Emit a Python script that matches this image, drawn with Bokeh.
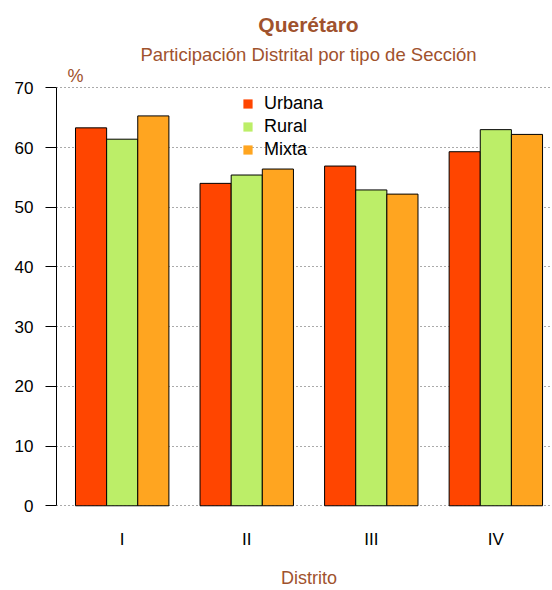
import numpy as np
from bokeh.plotting import figure
from bokeh.models import Range1d, FixedTicker, Legend, LegendItem
from bokeh.core.properties import value
from bokeh.embed import file_html
from bokeh.resources import INLINE

# ---- data ----
distritos = ["I", "II", "III", "IV"]
series = ["Urbana", "Rural", "Mixta"]
urbana = [63.3, 54.0, 56.9, 59.3]
rural = [61.4, 55.4, 52.9, 63.0]
mixta = [65.3, 56.4, 52.2, 62.2]
colors = ["#FF4500", "#BCEE68", "#FFA520"]
y_ticks = [0, 10, 20, 30, 40, 50, 60, 70]

title_txt = "Querétaro"
subtitle_txt = "Participación Distrital por tipo de Sección"
xlab = "Distrito"
ylab = "%"

FONT = value("Liberation Sans")
BROWN = "#A0522D"

W, H = 552, 590
LEFT = 56
XR = (0.39, 16.32)
YR = (-14.19, 84.63)

p = figure(width=W, height=H, output_backend="svg", toolbar_location=None,
           x_range=Range1d(*XR), y_range=Range1d(*YR),
           x_axis_location=None,
           min_border_left=LEFT, min_border_right=0, min_border_top=0, min_border_bottom=0)
p.outline_line_color = None
p.xgrid.visible = False


def px_x(page_x):
    return XR[0] + (page_x - LEFT) / (W - LEFT) * (XR[1] - XR[0])


def px_y(page_y):
    return YR[1] - page_y / H * (YR[1] - YR[0])


# bars (R barplot beside=TRUE, space=c(0,1))
n_groups = len(distritos)
group_left = 1 + 4 * np.arange(n_groups)
vals = [urbana, rural, mixta]
legend_items = []
for k, (s, v, c) in enumerate(zip(series, vals, colors)):
    xs = group_left + k + 0.5
    p.vbar(x=xs, top=v, bottom=0, width=1.0,
           fill_color=c, line_color="black", line_width=1)
    # zero-size markers used only as legend swatches
    r = p.scatter(x=xs, y=v, size=0, marker="square", fill_color=c, line_color=None)
    legend_items.append(LegendItem(label=s, renderers=[r]))

# y axis
ax = p.yaxis[0]
ax.ticker = FixedTicker(ticks=y_ticks)
ax.bounds = (0, 70)
ax.major_tick_out = 11
ax.major_tick_in = 0
ax.minor_tick_line_color = None
ax.axis_line_color = "black"
ax.major_tick_line_color = "black"
ax.major_label_standoff = 12
ax.major_label_text_font = "Liberation Sans"
ax.major_label_text_font_size = "17px"
ax.major_label_text_color = "black"

g = p.ygrid[0]
g.ticker = FixedTicker(ticks=y_ticks)
g.grid_line_color = "#555555"
g.grid_line_dash = "1 3"
g.grid_line_width = 1

# x category labels
p.text(x=group_left + 1.5, y=[px_y(539)] * n_groups, text=distritos,
       text_font=FONT, text_font_size=value("17px"), text_align="center",
       text_baseline="alphabetic", text_color="black")

# titles
cx = px_x(308)
p.text(x=[cx], y=[px_y(23.5)], text=[title_txt], text_font=FONT,
       text_font_size=value("21px"), text_font_style="bold", text_align="center",
       text_baseline="alphabetic", text_color=BROWN)
p.text(x=[cx], y=[px_y(53.5)], text=[subtitle_txt], text_font=FONT,
       text_font_size=value("18.5px"), text_align="center",
       text_baseline="alphabetic", text_color=BROWN)
p.text(x=[px_x(67)], y=[px_y(75.5)], text=[ylab], text_font=FONT,
       text_font_size=value("18px"), text_align="left",
       text_baseline="alphabetic", text_color=BROWN)
p.text(x=[px_x(308.5)], y=[px_y(577)], text=[xlab], text_font=FONT,
       text_font_size=value("18px"), text_align="center",
       text_baseline="alphabetic", text_color=BROWN)

# legend
leg = Legend(items=legend_items, location=(179, 429), orientation="vertical",
             glyph_width=25, glyph_height=23, label_height=23, spacing=0,
             label_standoff=4, padding=0, margin=0,
             label_text_font="Liberation Sans", label_text_font_size="18px",
             label_text_color="black",
             border_line_color=None, background_fill_alpha=0)
p.add_layout(leg, "center")

open("out.html", "w").write(file_html(p, INLINE))
